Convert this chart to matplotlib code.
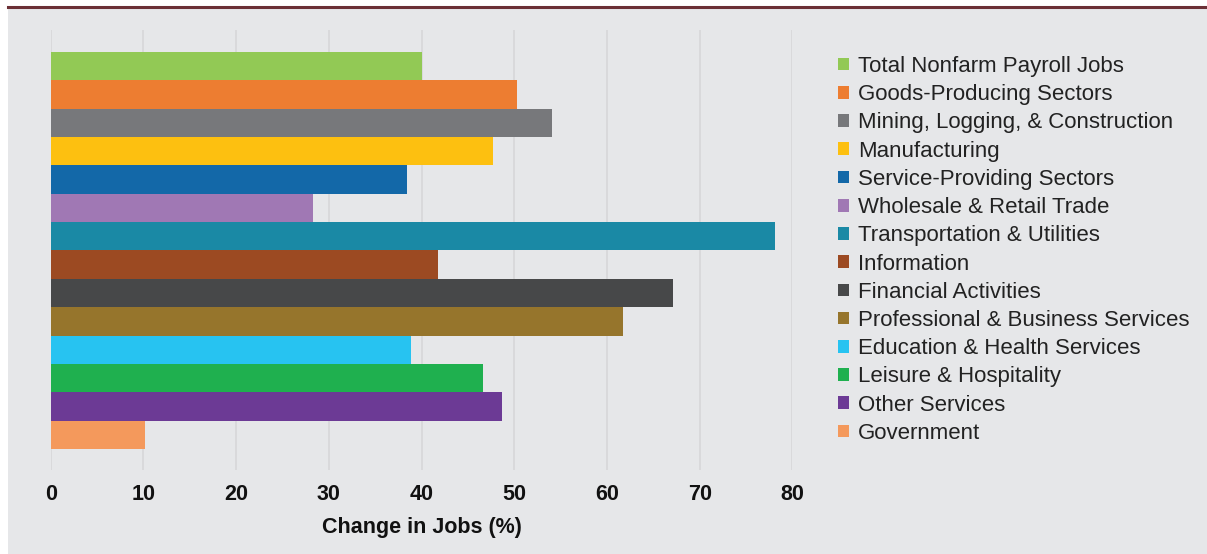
import matplotlib
matplotlib.use("Agg")
import matplotlib.pyplot as plt
from matplotlib.patches import Patch, Rectangle
from matplotlib.lines import Line2D

plt.rcParams['font.family'] = ['Liberation Sans', 'DejaVu Sans']

categories = [
    "Total Nonfarm Payroll Jobs",
    "Goods-Producing Sectors",
    "Mining, Logging, & Construction",
    "Manufacturing",
    "Service-Providing Sectors",
    "Wholesale & Retail Trade",
    "Transportation & Utilities",
    "Information",
    "Financial Activities",
    "Professional & Business Services",
    "Education & Health Services",
    "Leisure & Hospitality",
    "Other Services",
    "Government",
]
values = [40.0, 50.3, 54.1, 47.7, 38.4, 28.3, 78.1, 41.8, 67.1, 61.7, 38.9, 46.6, 48.7, 10.2]
colors = ["#92C955", "#ED7D31", "#77787B", "#FDC010", "#1368A8", "#A078B4", "#1A89A5",
          "#9C4A22", "#474849", "#96752C", "#27C3F1", "#1FB04F", "#6C3A95", "#F4995C"]
xticks = [0, 10, 20, 30, 40, 50, 60, 70, 80]

W, H = 1207, 554
fig = plt.figure(figsize=(W / 100, H / 100), dpi=100)
fig.patch.set_facecolor("white")

# gray panel and top rule
fig.patches.append(Rectangle((8 / W, 0.5 / H), (W - 8) / W, (H - 9.5) / H,
                             transform=fig.transFigure, facecolor="#E6E7E9",
                             edgecolor="none", zorder=-5))
fig.lines.append(Line2D([8 / W, 1], [1 - 7 / H, 1 - 7 / H], transform=fig.transFigure,
                        color="#6B2F35", lw=2.2, zorder=-4))

ax = fig.add_axes([50.7 / W, 1 - 470 / H, (792.4 - 50.7) / W, 440 / H])
ax.set_zorder(1)
ax.set_facecolor("none")
n = len(values)
ypos = list(range(n))
ax.barh(ypos, values, height=1.0, color=colors, zorder=2)
ax.set_xlim(0, 80)
bh = 397 / n
ax.set_ylim(n - 0.5 + 21 / bh, -0.5 - 22 / bh)
ax.set_yticks([])
ax.set_xticks(xticks)
ax.set_xticklabels([str(t) for t in xticks], fontsize=15.5, fontweight="bold", color="#111111")
ax.tick_params(axis="x", length=0, pad=10)
ax.grid(axis="x", color="#D6D6D8", lw=1.1, zorder=1)
ax.set_axisbelow(True)
for s in ax.spines.values():
    s.set_visible(False)
ax.set_xlabel("Change in Jobs (%)", fontsize=15.5, fontweight="bold", labelpad=9, color="#111111")

handles = [Patch(facecolor=c, edgecolor="none") for c in colors]
leg = fig.legend(handles, categories, loc="upper left", bbox_to_anchor=(838 / W, 1 - 56 / H),
                 frameon=False, fontsize=16, handlelength=0.5, handleheight=0.5,
                 handletextpad=0.4, labelspacing=0.325, borderaxespad=0, borderpad=0,
                 labelcolor="#222222")
leg.set_zorder(2)

fig.savefig("out.png", dpi=100)
